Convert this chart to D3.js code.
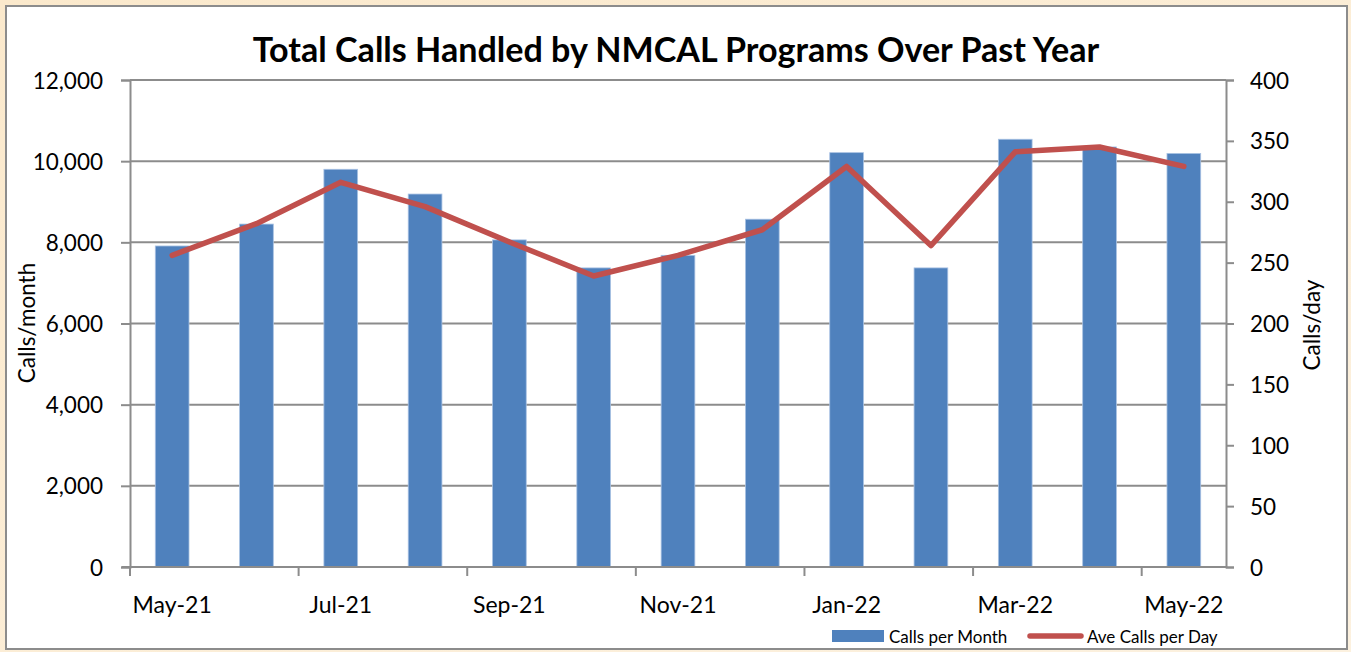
<!DOCTYPE html>
<html>
<head>
<meta charset="utf-8">
<script src="https://cdn.jsdelivr.net/npm/d3@7"></script>
<style>
  html, body { margin: 0; padding: 0; background: #fbecd4; }
  svg { display: block; }
  text { font-family: Lato, "Open Sans", sans-serif; fill: #000; }
</style>
</head>
<body>
<div id="chart"></div>
<script>
// data
const months = ['May-21', 'Jun-21', 'Jul-21', 'Aug-21', 'Sep-21', 'Oct-21', 'Nov-21',
    'Dec-21', 'Jan-22', 'Feb-22', 'Mar-22', 'Apr-22', 'May-22']
const callsPerMonth = [7910, 8450, 9800, 9190, 8060, 7370, 7680, 8570, 10210, 7370, 10540, 10350, 10190]
const callsPerDay = [256, 282, 316, 296, 267, 239, 256, 277, 329, 264, 341, 345, 329]
const leftTicks = [0, 2000, 4000, 6000, 8000, 10000, 12000]
const rightTicks = [0, 50, 100, 150, 200, 250, 300, 350, 400]
const shownMonths = ['May-21', 'Jul-21', 'Sep-21', 'Nov-21', 'Jan-22', 'Mar-22', 'May-22']

const width = 1351
const height = 652
const margin = { top: 80, right: 125, bottom: 85, left: 130 }
const boundedWidth = width - margin.left - margin.right
const boundedHeight = height - margin.top - margin.bottom

const svg = d3.select('#chart')
    .append('svg')
    .attr('width', width)
    .attr('height', height)

// beige backdrop + white chart box
const grad = svg.append('defs').append('linearGradient')
    .attr('id', 'bg').attr('x1', 0).attr('y1', 0).attr('x2', 1).attr('y2', 1)
grad.append('stop').attr('offset', 0).attr('stop-color', '#fbe9cc')
grad.append('stop').attr('offset', 1).attr('stop-color', '#fcf1df')
svg.append('rect').attr('width', width).attr('height', height).attr('fill', 'url(#bg)')
svg.append('rect')
    .attr('x', 6).attr('y', 6)
    .attr('width', 1341).attr('height', 643)
    .attr('fill', '#fff')
    .attr('stroke', '#8c8c8c')
    .attr('stroke-width', 2)

// title, fitted to the width it has in the picture
const title = svg.append('text')
    .attr('x', 676).attr('y', 62)
    .attr('text-anchor', 'middle')
    .style('font-weight', 700)
    .style('font-size', '30px')
    .text('Total Calls Handled by NMCAL Programs Over Past Year')
const tw = title.node().getComputedTextLength()
title.style('font-size', (30 * 847 / tw) + 'px')

const bounds = svg.append('g')
    .attr('transform', `translate(${margin.left},${margin.top})`)

// scales
const xScale = d3.scaleBand()
    .domain(months)
    .range([0, boundedWidth])
    .paddingInner(0.6)
    .paddingOuter(0.3)

const yLeft = d3.scaleLinear()
    .domain([0, 12000])
    .range([boundedHeight, 0])

const yRight = d3.scaleLinear()
    .domain([0, 400])
    .range([boundedHeight, 0])

const step = xScale.step()
const slotStart = m => xScale(m) - (step - xScale.bandwidth()) / 2
const slotMid = m => xScale(m) + xScale.bandwidth() / 2

// gridlines
bounds.append('g')
    .selectAll('line')
    .data(leftTicks.filter(d => d > 0))
    .join('line')
    .attr('x1', 0).attr('x2', boundedWidth)
    .attr('y1', d => yLeft(d)).attr('y2', d => yLeft(d))
    .attr('stroke', '#8c8c8c')
    .attr('stroke-width', 2)

// bars
bounds.append('g')
    .selectAll('rect')
    .data(callsPerMonth)
    .join('rect')
    .attr('x', (d, i) => xScale(months[i]))
    .attr('y', d => yLeft(d))
    .attr('width', xScale.bandwidth())
    .attr('height', d => boundedHeight - yLeft(d))
    .attr('fill', '#4f81bd')
    .attr('stroke', '#a9c2e3')
    .attr('stroke-width', 0.8)

// left axis
const leftAxis = bounds.append('g')
    .call(d3.axisLeft(yLeft)
        .tickValues(leftTicks)
        .tickSize(9)
        .tickPadding(18)
        .tickFormat(d3.format(',')))
leftAxis.select('.domain').attr('stroke', '#8c8c8c').attr('stroke-width', 2)
leftAxis.selectAll('.tick line').attr('stroke', '#8c8c8c').attr('stroke-width', 2)
leftAxis.selectAll('.tick text')
    .style('font-size', '22.5px')
    .attr('dy', '0.36em')

// right axis
const rightAxis = bounds.append('g')
    .attr('transform', `translate(${boundedWidth},0)`)
    .call(d3.axisRight(yRight)
        .tickValues(rightTicks)
        .tickSize(8)
        .tickPadding(16))
rightAxis.select('.domain').attr('stroke', '#8c8c8c').attr('stroke-width', 2)
rightAxis.selectAll('.tick line').attr('stroke', '#8c8c8c').attr('stroke-width', 2)
rightAxis.selectAll('.tick text')
    .style('font-size', '22.5px')
    .attr('dy', '0.36em')

// bottom axis: ticks on slot edges every two months, labels centred in the slot
const xAxis = bounds.append('g')
    .attr('transform', `translate(0,${boundedHeight})`)
xAxis.append('line')
    .attr('x1', -8).attr('x2', boundedWidth)
    .attr('stroke', '#8c8c8c').attr('stroke-width', 2)
xAxis.selectAll('.xtick')
    .data(shownMonths)
    .join('line')
    .attr('class', 'xtick')
    .attr('x1', d => slotStart(d)).attr('x2', d => slotStart(d))
    .attr('y1', 0).attr('y2', 9)
    .attr('stroke', '#8c8c8c').attr('stroke-width', 2)
xAxis.selectAll('.xlabel')
    .data(shownMonths)
    .join('text')
    .attr('class', 'xlabel')
    .attr('x', d => slotMid(d))
    .attr('y', 46)
    .attr('text-anchor', 'middle')
    .style('font-size', '23px')
    .text(d => d)

// line series
const lineGenerator = d3.line()
    .x((d, i) => slotMid(months[i]))
    .y(d => yRight(d))

bounds.append('path')
    .attr('d', lineGenerator(callsPerDay))
    .attr('fill', 'none')
    .attr('stroke', '#c0504d')
    .attr('stroke-width', 5.5)
    .attr('stroke-linejoin', 'round')
    .attr('stroke-linecap', 'round')

// axis titles
svg.append('text')
    .attr('transform', 'translate(35,323) rotate(-90)')
    .attr('text-anchor', 'middle')
    .style('font-size', '22.5px')
    .text('Calls/month')
svg.append('text')
    .attr('transform', 'translate(1320,325) rotate(-90)')
    .attr('text-anchor', 'middle')
    .style('font-size', '22.5px')
    .text('Calls/day')

// legend
const legend = svg.append('g')
legend.append('rect')
    .attr('x', 832).attr('y', 630)
    .attr('width', 52).attr('height', 12)
    .attr('fill', '#4f81bd')
legend.append('text')
    .attr('x', 889).attr('y', 643)
    .style('font-size', '17px')
    .text('Calls per Month')
legend.append('line')
    .attr('x1', 1030).attr('x2', 1081)
    .attr('y1', 636).attr('y2', 636)
    .attr('stroke', '#c0504d')
    .attr('stroke-width', 5.5)
    .attr('stroke-linecap', 'round')
legend.append('text')
    .attr('x', 1087).attr('y', 643)
    .style('font-size', '17px')
    .text('Ave Calls per Day')
</script>
</body>
</html>
